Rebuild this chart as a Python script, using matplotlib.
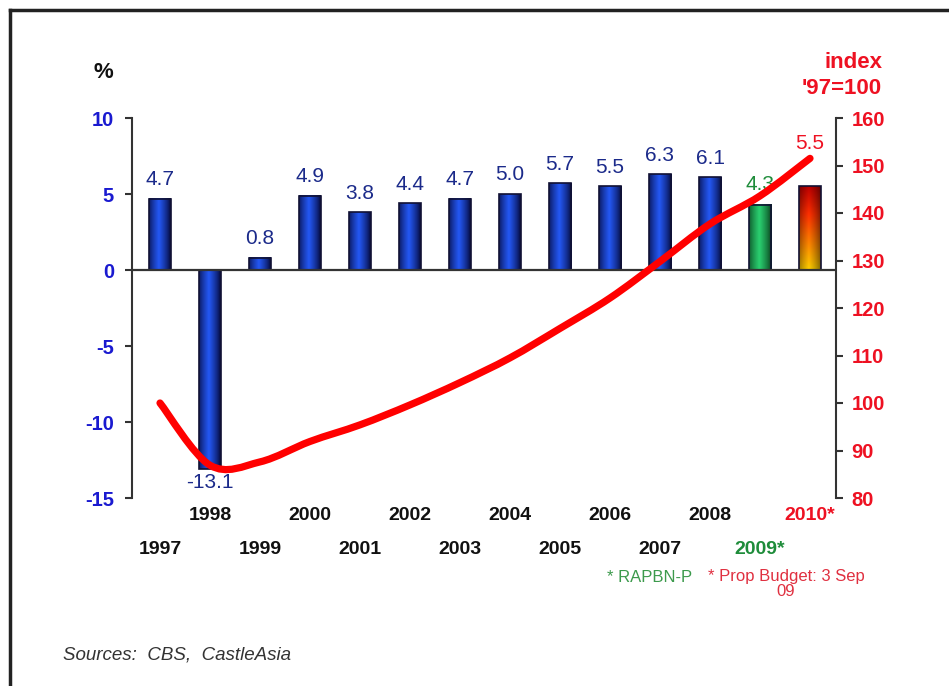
import numpy as np
import matplotlib
matplotlib.use("Agg")
import matplotlib.pyplot as plt
from matplotlib.colors import LinearSegmentedColormap, to_rgb
from matplotlib.path import Path
from matplotlib.patches import PathPatch, Rectangle
from matplotlib.lines import Line2D
from matplotlib.transforms import blended_transform_factory

plt.rcParams['font.family'] = ['Liberation Sans', 'DejaVu Sans']

# ---- data ----
years = ["1997", "1998", "1999", "2000", "2001", "2002", "2003",
         "2004", "2005", "2006", "2007", "2008", "2009*", "2010*"]
growth = [4.7, -13.1, 0.8, 4.9, 3.8, 4.4, 4.7, 5.0, 5.7, 5.5, 6.3, 6.1, 4.3, 5.5]
gdp_index = [100.0, 86.9, 87.6, 91.9, 95.4, 99.6, 104.3, 109.5,
             115.7, 122.1, 129.8, 137.7, 143.6, 151.5]
left_ticks = [-15, -10, -5, 0, 5, 10]
right_ticks = [80, 90, 100, 110, 120, 130, 140, 150, 160]

NAVY = "#1b2a8a"
BLUE_TICK = "#1a1ad0"
RED = "#ee1122"
GREEN = "#1e8c3a"

W, H = 949, 686
fig = plt.figure(figsize=(W / 100, H / 100), dpi=100)
ax = fig.add_axes([132 / W, 1 - 498 / H, 704 / W, 380 / H])
ax2 = ax.twinx()
ax2.set_ylim(80, 160)
ax.set_zorder(1)
ax2.set_zorder(2)
ax2.patch.set_visible(False)

x = np.arange(len(years))
bw = 0.44


def bar_image(kind, n=64):
    t = np.linspace(0, 1, n)
    prof = np.clip(1 - np.abs(t - 0.45) * 2.0, 0, 1) ** 0.8  # brighter middle
    if kind == "blue":
        dark, light = np.array(to_rgb("#07104a")), np.array(to_rgb("#2458f5"))
        row = dark + (light - dark) * prof[:, None]
        return np.tile(row[None, :, :], (n, 1, 1))
    if kind == "green":
        dark, light = np.array(to_rgb("#0b4a22")), np.array(to_rgb("#2ad070"))
        row = dark + (light - dark) * prof[:, None]
        return np.tile(row[None, :, :], (n, 1, 1))
    # red at the top fading to yellow at the base
    cm = LinearSegmentedColormap.from_list("fire", ["#c00000", "#ff3000", "#ff8000", "#ffd000"])
    col = np.array([cm(v)[:3] for v in t])
    shade = 0.55 + 0.45 * prof
    return col[:, None, :] * shade[None, :, None]


for i, v in enumerate(growth):
    kind = "blue" if i < 12 else ("green" if i == 12 else "fire")
    img = bar_image(kind)
    top, bot = (v, 0) if v >= 0 else (0, v)
    ax.imshow(img, extent=[x[i] - bw / 2, x[i] + bw / 2, bot, top],
              aspect="auto", origin="upper", zorder=2, interpolation="bilinear")
    ax.add_patch(Rectangle((x[i] - bw / 2, bot), bw, top - bot, fill=False,
                           edgecolor="#111133", lw=1.2, zorder=3))

ax.set_xlim(-0.56, 13.52)
ax.set_ylim(-15, 10)

# zero line
ax.axhline(0, color="#333333", lw=1.6, zorder=4)

# value labels
for i, v in enumerate(growth):
    if i == 12:
        color, off = GREEN, 20
    elif i == 13:
        color, off = RED, 43
    else:
        color, off = NAVY, 19
    if v < 0:
        off = -13
    ax.annotate(f"{v:.1f}", (x[i], v), xytext=(0, off * 0.72), textcoords="offset points",
                ha="center", va="center", fontsize=15, color=color, zorder=6)

# smoothed index line (Catmull-Rom segments as cubic Beziers)
pts = np.column_stack([x, gdp_index]).astype(float)
verts = [tuple(pts[0])]
codes = [Path.MOVETO]
for k in range(len(pts) - 1):
    p0 = pts[k - 1] if k > 0 else pts[k]
    p1, p2 = pts[k], pts[k + 1]
    p3 = pts[k + 2] if k + 2 < len(pts) else pts[k + 1]
    c1 = p1 + (p2 - p0) / 6
    c2 = p2 - (p3 - p1) / 6
    verts += [tuple(c1), tuple(c2), tuple(p2)]
    codes += [Path.CURVE4] * 3
ax2.add_patch(PathPatch(Path(verts, codes), fill=False, edgecolor="#ff0000",
                        lw=5.2, capstyle="round", joinstyle="round", zorder=5))

# axes styling
for a in (ax, ax2):
    a.spines["top"].set_visible(False)
    a.spines["bottom"].set_visible(False)
    a.set_xticks([])
ax.spines["right"].set_visible(False)
ax2.spines["left"].set_visible(False)
ax.spines["left"].set_color("#333333")
ax.spines["left"].set_linewidth(1.5)
ax2.spines["right"].set_color("#333333")
ax2.spines["right"].set_linewidth(1.5)

ax.set_yticks(left_ticks)
ax.set_yticklabels([str(t) for t in left_ticks])
ax.tick_params(axis="y", colors="#333333", length=5, width=1.5, pad=8,
               labelsize=14.5, labelcolor=BLUE_TICK)
for lab in ax.get_yticklabels():
    lab.set_fontweight("bold")
ax2.set_yticks(right_ticks)
ax2.set_yticklabels([str(t) for t in right_ticks])
ax2.tick_params(axis="y", colors="#333333", length=5, width=1.5, pad=6,
                labelsize=14.5, labelcolor=RED)
for lab in ax2.get_yticklabels():
    lab.set_fontweight("bold")

# staggered year labels
tr = blended_transform_factory(ax.transData, fig.transFigure)
for i, name in enumerate(years):
    ypx = 516 if i % 2 else 549
    color = "#111111"
    if i == 12:
        color = GREEN
    elif i == 13:
        color = RED
    ax.text(x[i], 1 - ypx / H, name, transform=tr, ha="center", va="center",
            fontsize=14, fontweight="bold", color=color, clip_on=False)

# axis titles
fig.text(103 / W, 1 - 73 / H, "%", ha="center", va="center", fontsize=16,
         fontweight="bold", color="#111111")
fig.text(882 / W, 1 - 62 / H, "index", ha="right", va="center", fontsize=16,
         fontweight="bold", color=RED)
fig.text(882 / W, 1 - 88 / H, "'97=100", ha="right", va="center", fontsize=16,
         fontweight="bold", color=RED)

# footnotes
fig.text(650 / W, 1 - 578 / H, "* RAPBN-P", ha="center", va="center",
         fontsize=12, color="#3c9a4c")
fig.text(786 / W, 1 - 584 / H, "* Prop Budget: 3 Sep\n09", ha="center", va="center",
         fontsize=12, color="#e03040", linespacing=1.0)
fig.text(63 / W, 1 - 655 / H, "Sources:  CBS,  CastleAsia", ha="left", va="center",
         fontsize=13.5, style="italic", color="#333333")

# frame
fig.add_artist(Line2D([10 / W, 10 / W], [0, 1 - 10 / H], transform=fig.transFigure,
                      color="#222222", lw=2.5))
fig.add_artist(Line2D([10 / W, 1], [1 - 10 / H, 1 - 10 / H], transform=fig.transFigure,
                      color="#222222", lw=2.5))

fig.savefig("out.png", dpi=100)
